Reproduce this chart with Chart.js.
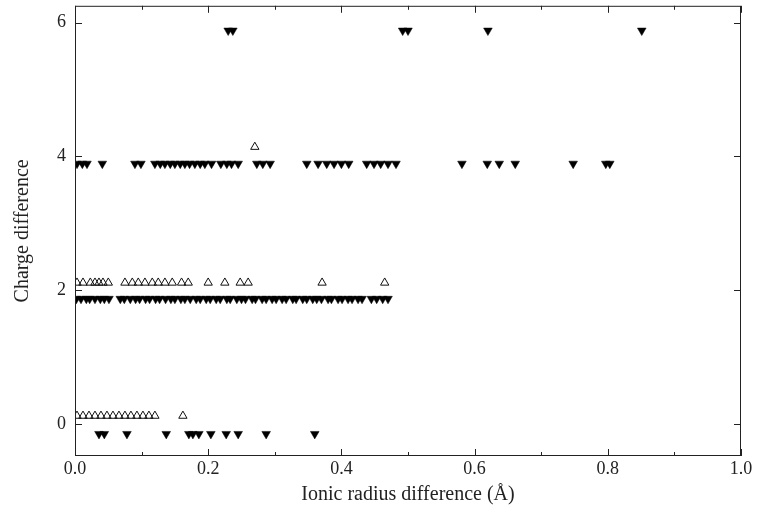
<!DOCTYPE html>
<html>
<head>
<meta charset="utf-8">
<script src="https://cdn.jsdelivr.net/npm/chart.js@4.4.0/dist/chart.umd.min.js"></script>
<style>
  html, body { margin: 0; padding: 0; background: #fff; }
</style>
</head>
<body>
<canvas id="plot" width="758" height="519"></canvas>
<script>
// x values (ionic radius difference, Å) per charge level
const row0Open = [0.003, 0.012, 0.021, 0.03, 0.039, 0.048, 0.057, 0.066, 0.075, 0.084, 0.093, 0.102, 0.111, 0.12, 0.162];
const row0Filled = [0.036, 0.044, 0.078, 0.137, 0.171, 0.177, 0.186, 0.204, 0.227, 0.245, 0.287, 0.36];

const row2Open = [0.003, 0.012, 0.023, 0.03, 0.036, 0.042, 0.05, 0.075, 0.086, 0.095, 0.105, 0.116,
                  0.125, 0.135, 0.146, 0.16, 0.17, 0.2, 0.225, 0.248, 0.26, 0.371, 0.465];
const row2Filled = [0.002, 0.009, 0.017, 0.022, 0.03, 0.038, 0.044, 0.051,
                    0.068, 0.074, 0.083, 0.091, 0.097, 0.106, 0.112, 0.121, 0.127, 0.136, 0.144, 0.15,
                    0.159, 0.165, 0.173, 0.182, 0.188, 0.197, 0.203, 0.212, 0.218, 0.228, 0.233, 0.243,
                    0.25, 0.256, 0.266, 0.271, 0.281, 0.287, 0.296, 0.302, 0.311, 0.317, 0.327, 0.332,
                    0.342, 0.348, 0.357, 0.363, 0.37, 0.38, 0.385, 0.395, 0.401, 0.41, 0.416, 0.425, 0.431,
                    0.445, 0.453, 0.462, 0.47];

const row4Open = [0.27];
const row4Filled = [0.003, 0.011, 0.018, 0.041, 0.09, 0.099, 0.12, 0.128, 0.135, 0.143, 0.15, 0.158,
                    0.165, 0.172, 0.18, 0.188, 0.195, 0.205, 0.219, 0.228, 0.235, 0.245, 0.273, 0.282,
                    0.293, 0.348, 0.365, 0.378, 0.389, 0.4, 0.411, 0.438, 0.449, 0.459, 0.47, 0.482,
                    0.581, 0.619, 0.637, 0.661, 0.748, 0.797, 0.803];

const row6Filled = [0.23, 0.237, 0.492, 0.5, 0.62, 0.851];

// plotted heights (charge difference, drawn slightly off the integer)
const openLevels = [0.12, 2.11, 4.14];
const filledLevels = [-0.15, 1.87, 3.89, 5.88];

const xTicks = [0, 0.2, 0.4, 0.6, 0.8, 1.0];
const xMinorTicks = [0.1, 0.3, 0.5, 0.7, 0.9];
const yTicks = [0, 2, 4, 6];

const toPoints = (xs, y) => xs.map(x => ({ x: x, y: y }));

const openPoints = [].concat(
  toPoints(row0Open, openLevels[0]),
  toPoints(row2Open, openLevels[1]),
  toPoints(row4Open, openLevels[2])
);
const filledPoints = [].concat(
  toPoints(row0Filled, filledLevels[0]),
  toPoints(row2Filled, filledLevels[1]),
  toPoints(row4Filled, filledLevels[2]),
  toPoints(row6Filled, filledLevels[3])
);

// frame and inward ticks
const framePlugin = {
  id: 'frame',
  afterDraw(chart) {
    const { ctx, chartArea: a, scales } = chart;
    const sx = scales.x, sy = scales.y;
    ctx.save();
    ctx.strokeStyle = '#222';
    ctx.lineWidth = 1;
    ctx.strokeRect(a.left + 0.5, a.top + 0.5, a.right - a.left - 1, a.bottom - a.top - 1);
    const line = (x1, y1, x2, y2) => {
      ctx.beginPath(); ctx.moveTo(x1, y1); ctx.lineTo(x2, y2); ctx.stroke();
    };
    xTicks.forEach(v => {
      const px = Math.round(sx.getPixelForValue(v)) + 0.5;
      line(px, a.bottom, px, a.bottom - 7);
      line(px, a.top, px, a.top + 7);
    });
    xMinorTicks.forEach(v => {
      const px = Math.round(sx.getPixelForValue(v)) + 0.5;
      line(px, a.bottom, px, a.bottom - 4);
      line(px, a.top, px, a.top + 4);
    });
    yTicks.forEach(v => {
      const py = Math.round(sy.getPixelForValue(v)) + 0.5;
      line(a.left, py, a.left + 7, py);
      line(a.right, py, a.right - 7, py);
    });
    ctx.restore();
  }
};

const serif = 'Liberation Serif';

new Chart(document.getElementById('plot'), {
  type: 'scatter',
  data: {
    datasets: [
      {
        label: 'filled',
        data: filledPoints,
        pointStyle: 'triangle',
        rotation: 180,
        radius: 5,
        backgroundColor: '#000',
        borderColor: '#000',
        borderWidth: 0.5
      },
      {
        label: 'open',
        data: openPoints,
        pointStyle: 'triangle',
        radius: 4.8,
        backgroundColor: 'rgba(255,255,255,0)',
        borderColor: '#111',
        borderWidth: 1
      }
    ]
  },
  options: {
    responsive: false,
    animation: false,
    layout: { padding: { left: 0, top: 1, right: 17, bottom: 0 } },
    plugins: {
      legend: { display: false },
      tooltip: { enabled: false }
    },
    scales: {
      x: {
        type: 'linear',
        min: 0,
        max: 1,
        grid: { display: false, drawTicks: false },
        border: { display: false },
        afterBuildTicks: s => { s.ticks = xTicks.map(v => ({ value: v })); },
        afterFit: s => { s.height = 63; s.paddingLeft = 0; s.paddingRight = 0; },
        ticks: {
          padding: 2,
          color: '#222',
          font: { family: serif, size: 18 },
          callback: v => v.toFixed(1)
        },
        title: {
          display: true,
          text: 'Ionic radius difference (Å)',
          color: '#222',
          font: { family: serif, size: 20 },
          padding: { top: 0, bottom: 12 }
        }
      },
      y: {
        type: 'linear',
        min: -0.48,
        max: 6.25,
        grid: { display: false, drawTicks: false },
        border: { display: false },
        afterBuildTicks: s => { s.ticks = yTicks.map(v => ({ value: v })); },
        afterFit: s => { s.width = 75; s.paddingTop = 0; s.paddingBottom = 0; },
        ticks: {
          padding: 9,
          color: '#222',
          font: { family: serif, size: 18 },
          callback: v => String(v)
        },
        title: {
          display: true,
          text: 'Charge difference',
          color: '#222',
          font: { family: serif, size: 20 },
          padding: { top: 11, bottom: 0 }
        }
      }
    }
  },
  plugins: [framePlugin]
});
</script>
</body>
</html>
